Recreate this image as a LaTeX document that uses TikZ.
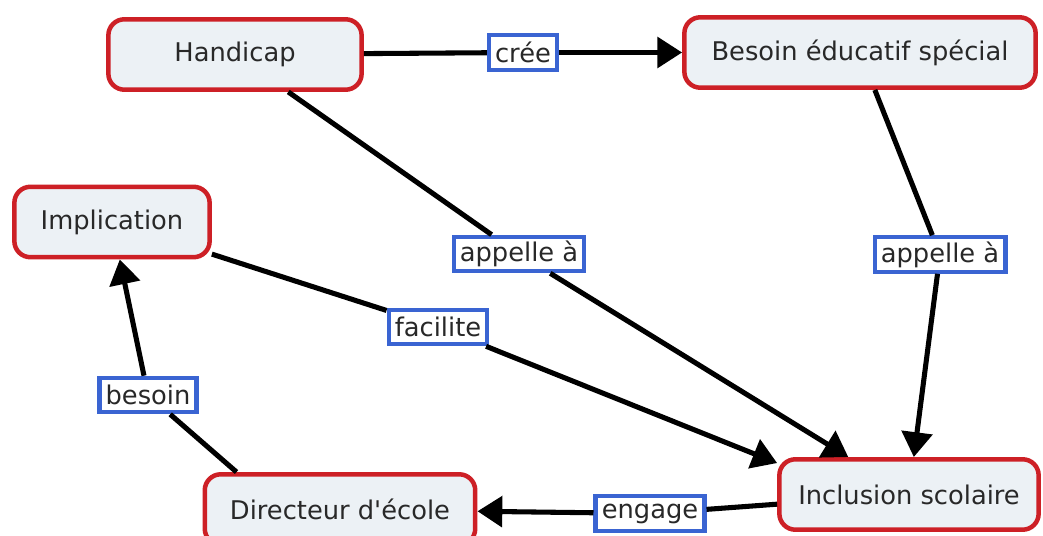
\documentclass[tikz,border=0pt]{standalone}
\usepackage{fontspec}
\newfontfamily\cmapfont{DejaVu Sans}
\usepackage{xcolor}
\usepackage{tikz}
\usetikzlibrary{shapes,arrows.meta,positioning}
\definecolor{conceptred}{RGB}{205,32,38}
\definecolor{conceptfill}{RGB}{236,241,245}
\definecolor{linkblue}{RGB}{58,100,210}
\definecolor{textgray}{RGB}{40,40,40}

\begin{document}
\begin{tikzpicture}[
    x=0.025cm, y=-0.025cm,
    font=\cmapfont\fontsize{18.3}{22}\selectfont,
    concept/.style={rectangle, draw=conceptred, line width=3.2pt, fill=conceptfill, rounded corners=0.4cm, minimum height=1.76cm, text=textgray, align=center},
    linkword/.style={rectangle, draw=linkblue, line width=3pt, fill=white, inner xsep=0.155cm, inner ysep=0.05cm, minimum height=0.86cm, text=textgray},
    conn/.style={line width=3.6pt, black},
    arr/.style={conn, -{Triangle[length=0.62cm,width=0.76cm]}}
]
\useasboundingbox (0,0) rectangle (1043,536);
\clip (0,0) rectangle (1043,536);

% Concepts
\node[concept, minimum width=6.33cm] (handicap) at (235,54.5) {Handicap};
\node[concept, minimum width=8.78cm] (besoinedu) at (860,52.5) {Besoin éducatif spécial};
\node[concept, minimum width=4.88cm] (implication) at (112,222) {Implication};
\node[concept, minimum width=6.76cm] (directeur) at (340,509.5) {Directeur d'école};
\node[concept, minimum width=6.48cm] (inclusion) at (909,494.5) {Inclusion scolaire};

% Linking words
\node[linkword] (lcree) at (523,52.5) {crée};
\node[linkword] (lappelle) at (519,254) {appelle à};
\node[linkword] (lappelleb) at (940,254.5) {appelle à};
\node[linkword] (lfacilite) at (438,327) {facilite};
\node[linkword] (lbesoin) at (148,395) {besoin};
\node[linkword] (lengage) at (650,513.5) {engage};

% Connectors
\draw[conn] (handicap) -- (lcree);
\draw[arr] (lcree) -- (besoinedu);
\draw[conn] (handicap) -- (lappelle);
\draw[arr] (lappelle) -- (inclusion);
\draw[conn] (besoinedu) -- (lappelleb);
\draw[arr] (lappelleb) -- (inclusion);
\draw[conn] (implication) -- (lfacilite);
\draw[arr] (lfacilite) -- ([yshift=-0.15cm]inclusion.north west);
\draw[conn] ([xshift=0.85cm]directeur.north west) -- (lbesoin);
\draw[arr] (lbesoin) -- (implication);
\draw[conn] (inclusion) -- (lengage);
\draw[arr] (lengage) -- (directeur);

\end{tikzpicture}
\end{document}
